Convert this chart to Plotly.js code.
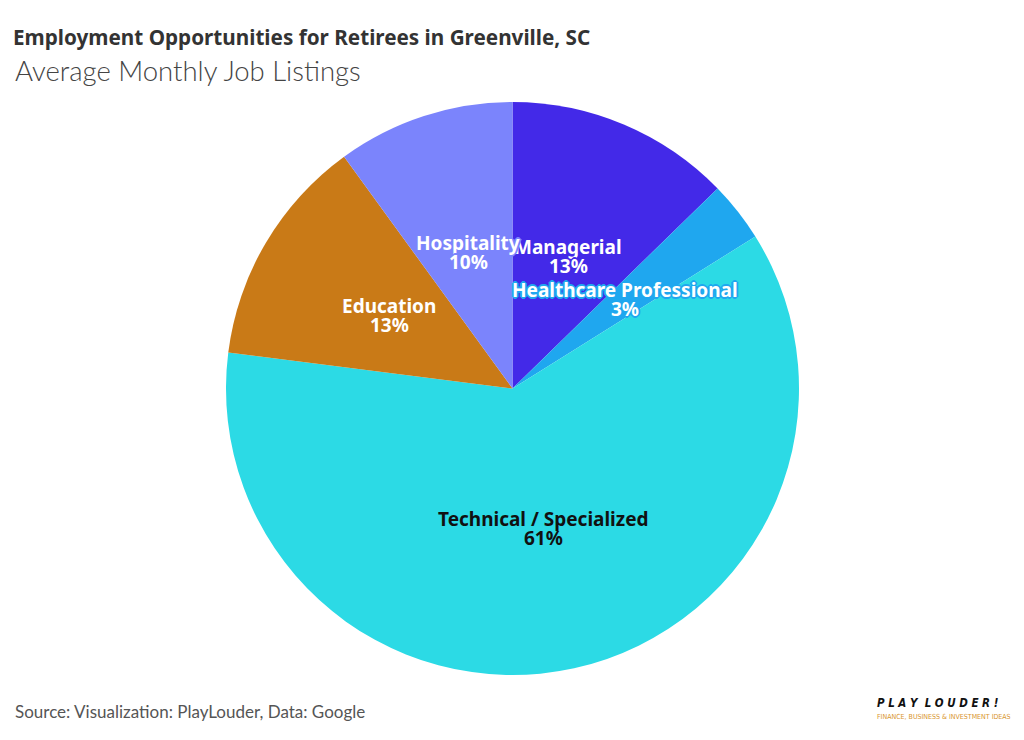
<!DOCTYPE html>
<html>
<head>
<meta charset="utf-8">
<script src="https://cdn.plot.ly/plotly-3.0.1.min.js"></script>
<style>
html,body{margin:0;padding:0;background:#fff;}
#chart{width:1024px;height:740px;}
</style>
</head>
<body>
<div id="chart"></div>
<script>
// ---- data ----
const categories = ["Managerial", "Healthcare Professional", "Technical / Specialized", "Education", "Hospitality"];
const shares = [12.7, 3.4, 60.9, 13.0, 10.0];
const sliceColors = ["#4329e8", "#1fa7ef", "#2cdae5", "#c97a17", "#7b84fc"];
const labelColors = ["#ffffff", "#ffffff", "#111111", "#ffffff", "#ffffff"];

const titleText = "Employment Opportunities for Retirees in Greenville, SC";
const subtitleText = "Average Monthly Job Listings";
const sourceText = "Source: Visualization: PlayLouder, Data: Google";

// ---- layout geometry ----
const W = 1024, H = 740;
const cxPx = 512.5, cyPx = 388.5, rPx = 286.5;
const domX = [(cxPx - rPx) / W, (cxPx + rPx) / W];
const domY = [1 - (cyPx + rPx) / H, 1 - (cyPx - rPx) / H];
const BOLD = "'Noto Sans', 'Open Sans', sans-serif";
const LIGHT = "Lato, 'Noto Sans', sans-serif";

const total = shares.reduce((a, b) => a + b, 0);
const annotations = [];
let cum = 0;
shares.forEach((v, i) => {
  const mid = (cum + v / 2) / total;
  cum += v;
  const th = 2 * Math.PI * mid;
  const k = 0.5;
  const x = (cxPx + k * rPx * Math.sin(th)) / W;
  const y = 1 - (cyPx - k * rPx * Math.cos(th)) / H;
  const pct = Math.round(v / total * 100) + "%";
  const c = sliceColors[i];
  const sh = labelColors[i] === "#ffffff"
    ? `1px 1px 0 ${c}, -1px -1px 0 ${c}, 1px -1px 0 ${c}, -1px 1px 0 ${c}, 2px 0 0 ${c}, -2px 0 0 ${c}, 0 2px 0 ${c}, 0 -2px 0 ${c}`
    : "none";
  const f = {family: BOLD, size: 19, color: labelColors[i], weight: 700, shadow: sh};
  annotations.push({xref: "paper", yref: "paper", x: x, y: y, text: categories[i], showarrow: false,
    xanchor: "center", yanchor: "middle", yshift: 9.5, font: f});
  annotations.push({xref: "paper", yref: "paper", x: x, y: y, text: pct, showarrow: false,
    xanchor: "center", yanchor: "middle", yshift: -9.5, font: f});
});

annotations.push({xref: "paper", yref: "paper", x: 13 / W, y: 1 - 70 / H, xanchor: "left", yanchor: "middle",
  text: subtitleText, showarrow: false, font: {family: LIGHT, size: 27.5, color: "#444444", weight: 300}});
annotations.push({xref: "paper", yref: "paper", x: 13 / W, y: 1 - 711 / H, xanchor: "left", yanchor: "middle",
  text: sourceText, showarrow: false, font: {family: LIGHT, size: 17, color: "#555555"}});
annotations.push({xref: "paper", yref: "paper", x: 938 / W, y: 1 - 703 / H, xanchor: "center", yanchor: "middle",
  text: "<i><b>P L A Y  L O U D E R !</b></i>", showarrow: false,
  font: {family: "'Liberation Sans Narrow', 'DejaVu Sans Condensed', sans-serif", size: 11.5, color: "#111111"}});
annotations.push({xref: "paper", yref: "paper", x: 944 / W, y: 1 - 717 / H, xanchor: "center", yanchor: "middle",
  text: "FINANCE, BUSINESS &amp; INVESTMENT IDEAS", showarrow: false,
  font: {family: "'Liberation Sans Narrow', 'DejaVu Sans Condensed', sans-serif", size: 7, color: "#d9952e"}});

const data = [{
  type: "pie",
  labels: categories,
  values: shares,
  sort: false,
  direction: "clockwise",
  rotation: 0,
  marker: {colors: sliceColors, line: {width: 0}},
  textinfo: "none",
  hoverinfo: "label+percent",
  showlegend: false,
  domain: {x: domX, y: domY}
}];

const layout = {
  width: W, height: H,
  margin: {l: 0, r: 0, t: 0, b: 0},
  paper_bgcolor: "#ffffff",
  plot_bgcolor: "#ffffff",
  showlegend: false,
  title: {text: "<b>" + titleText + "</b>", x: 13 / W, xanchor: "left", xref: "paper",
    y: 1 - 38 / H, yanchor: "middle", font: {family: BOLD, size: 20.7, color: "#333333"}},
  annotations: annotations
};

Plotly.newPlot("chart", data, layout, {displayModeBar: false, staticPlot: true});
</script>
</body>
</html>
